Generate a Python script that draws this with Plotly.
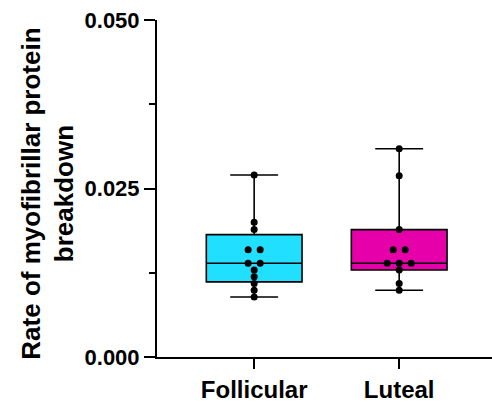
import numpy as np
import plotly.graph_objects as go

categories = ["Follicular", "Luteal"]
follicular = [0.0270, 0.0200, 0.0189, 0.0159, 0.0159, 0.0139, 0.0139,
              0.0129, 0.0119, 0.0109, 0.0099, 0.0089]
luteal = [0.0309, 0.0269, 0.0189, 0.0159, 0.0159, 0.0139, 0.0139, 0.0139,
          0.0129, 0.0109, 0.0099]
colors = ["#20DFFF", "#E600AA"]
y_ticks = [0.0, 0.025, 0.05]
y_title = "Rate of myofibrillar protein<br>breakdown"

FONT = "Arial, 'Liberation Sans', sans-serif"
series = [follicular, luteal]

fig = go.Figure()
step = 0.083
for i, (name, vals, col) in enumerate(zip(categories, series, colors)):
    v = np.array(vals)
    q1, med, q3 = np.percentile(v, [25, 50, 75], method="weibull")
    fig.add_trace(go.Box(
        x=[i], q1=[q1], median=[med], q3=[q3],
        lowerfence=[v.min()], upperfence=[v.max()],
        width=0.66, whiskerwidth=0.5,
        fillcolor=col, line=dict(color="black", width=1.6),
        boxpoints=False, showlegend=False, hoverinfo="skip",
    ))
    # beeswarm offsets for equal values
    xs, ys = [], []
    rounded = np.round(v, 5)
    for val in sorted(set(rounded)):
        k = int(np.sum(rounded == val))
        for j in range(k):
            xs.append(i + (j - (k - 1) / 2) * step)
            ys.append(val)
    fig.add_trace(go.Scatter(
        x=xs, y=ys, mode="markers",
        marker=dict(color="black", size=7),
        showlegend=False, hoverinfo="skip",
    ))

fig.update_layout(
    width=492, height=403,
    margin=dict(l=157, r=0, t=20, b=43),
    paper_bgcolor="white", plot_bgcolor="white",
    font=dict(family=FONT, color="black"),
)
fig.update_xaxes(
    range=[-0.67, 1.64], showgrid=False, zeroline=False,
    showline=True, linecolor="black", linewidth=2,
    tickvals=[0, 1], ticktext=categories,
    ticks="outside", ticklen=10, tickwidth=2, tickcolor="black",
    tickfont=dict(size=24, family=FONT, color="black", weight="bold"),
)
fig.update_yaxes(
    range=[0, 0.05], showgrid=False, zeroline=False,
    showline=True, linecolor="black", linewidth=2,
    tickvals=y_ticks, ticktext=[f"{t:.3f}" for t in y_ticks],
    ticks="outside", ticklen=11, tickwidth=2, tickcolor="black",
    tickfont=dict(size=22, family=FONT, color="black", weight="bold"),
    minor=dict(tickvals=[0.0125, 0.0375], ticks="outside", ticklen=6,
               tickwidth=2, tickcolor="black"),
)
fig.add_annotation(
    text=y_title, xref="paper", yref="paper",
    x=-0.328, y=0.485, xanchor="center", yanchor="middle",
    textangle=-90, align="center", showarrow=False,
    font=dict(size=26, family=FONT, color="black", weight="bold"),
)

fig.write_html("out.html")
